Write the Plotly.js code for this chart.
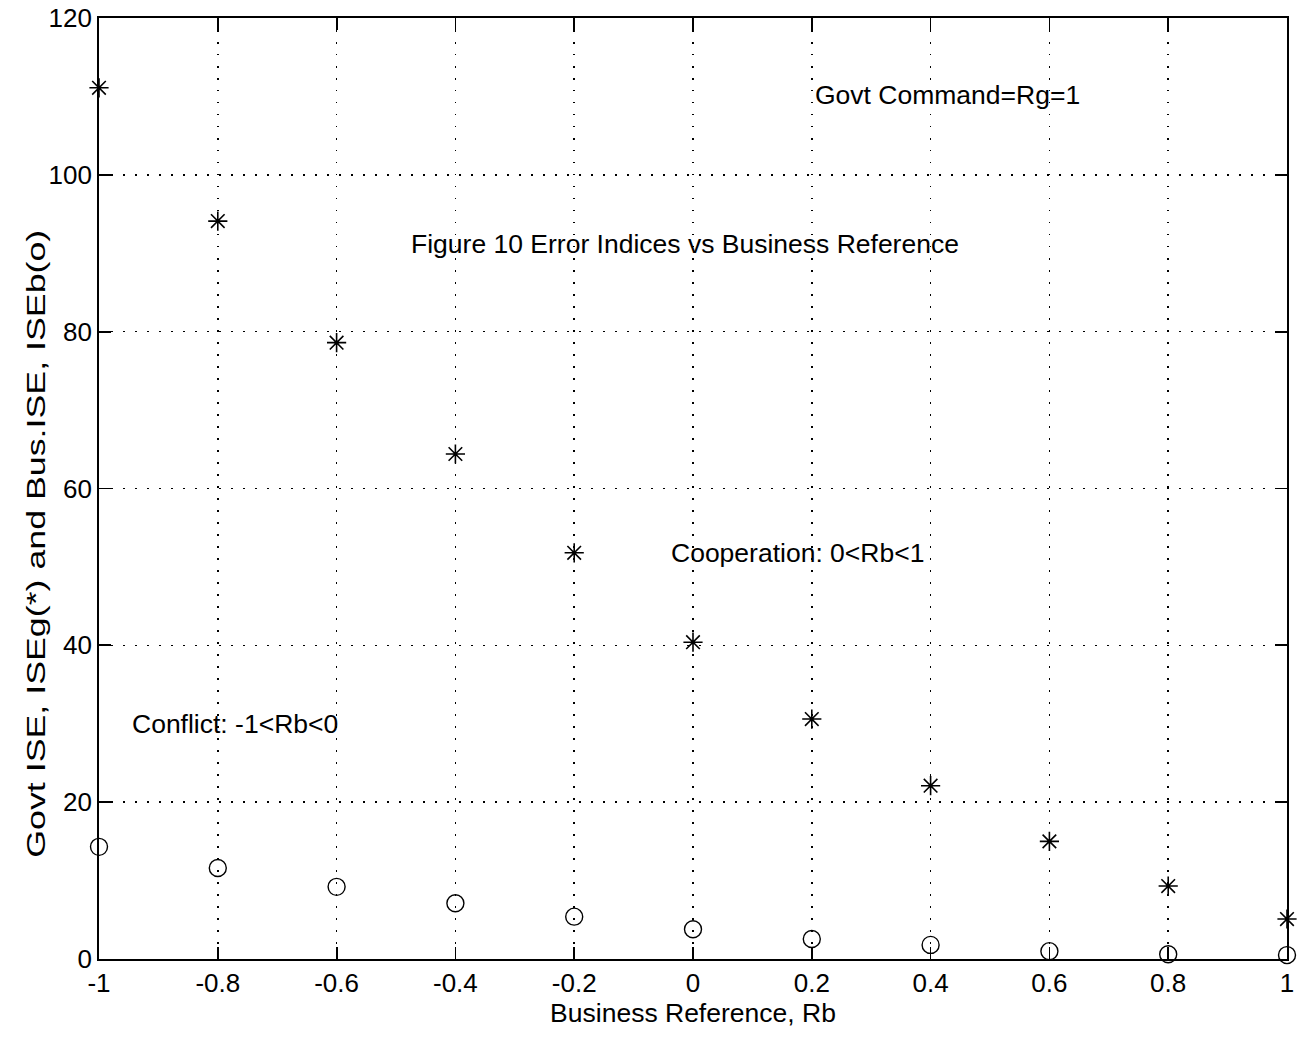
<!DOCTYPE html>
<html><head><meta charset="utf-8">
<script src="https://cdn.plot.ly/plotly-3.0.1.min.js"></script>
<style>html,body{margin:0;padding:0;background:#fff}#plot{width:1304px;height:1037px}</style>
</head><body><div id="plot"></div>
<script>
const rb = [-1, -0.8, -0.6, -0.4, -0.2, 0, 0.2, 0.4, 0.6, 0.8, 1];
const iseGovt = [111.1, 94.1, 78.6, 64.4, 51.8, 40.4, 30.6, 22.1, 15.0, 9.3, 5.1];
const iseBus = [14.3, 11.6, 9.2, 7.1, 5.4, 3.8, 2.55, 1.8, 1.0, 0.6, 0.5];
const xTicks = [-1, -0.8, -0.6, -0.4, -0.2, 0, 0.2, 0.4, 0.6, 0.8, 1];
const xTickText = ["-1", "-0.8", "-0.6", "-0.4", "-0.2", "0", "0.2", "0.4", "0.6", "0.8", "1"];
const yTicks = [0, 20, 40, 60, 80, 100, 120];
const yTitle = "Govt ISE, ISEg(*) and Bus.ISE, ISEb(o)";
const xTitle = "Business Reference, Rb";

const font = {family: "Liberation Sans, Arial, sans-serif", color: "#000"};
const F = s => Object.assign({size: s}, font);
const traces = [
  {x: rb, y: iseGovt, type: "scatter", mode: "markers", cliponaxis: false,
   marker: {symbol: "asterisk-open", size: 16, color: "#000", line: {width: 1.6, color: "#000"}}},
  {x: rb, y: iseBus, type: "scatter", mode: "markers", cliponaxis: false,
   marker: {symbol: "circle-open", size: 17, color: "#000", line: {width: 1.4, color: "#000"}}}
];
const axisCommon = {showline: true, mirror: "ticks", linecolor: "#000", linewidth: 1.8,
  ticks: "inside", ticklen: 12, tickwidth: 1.8, tickcolor: "#000",
  showgrid: true, gridcolor: "#000", griddash: "1.5px,10.5px", gridwidth: 1.5, zeroline: false,
  tickfont: F(26)};
const layout = {
  width: 1304, height: 1037, showlegend: false,
  paper_bgcolor: "#fff", plot_bgcolor: "#fff",
  margin: {l: 99, r: 17, t: 18, b: 78},
  xaxis: Object.assign({}, axisCommon, {range: [-1, 1], tickvals: xTicks, ticktext: xTickText,
    title: {text: xTitle, font: F(26.5), standoff: 4}}),
  yaxis: Object.assign({}, axisCommon, {range: [0, 120], tickvals: yTicks}),
  annotations: [
    {x: 0.202, y: 110.2, xref: "x", yref: "y", text: "Govt Command=Rg=1", showarrow: false, xanchor: "left", yanchor: "middle", font: F(26.5)},
    {x: -0.478, y: 91.2, xref: "x", yref: "y", text: "Figure 10 Error Indices vs Business Reference", showarrow: false, xanchor: "left", yanchor: "middle", font: F(26.5)},
    {x: -0.040, y: 51.8, xref: "x", yref: "y", text: "Cooperation: 0<Rb<1", showarrow: false, xanchor: "left", yanchor: "middle", font: F(26.5)},
    {x: -0.948, y: 30.0, xref: "x", yref: "y", text: "Conflict: -1<Rb<0", showarrow: false, xanchor: "left", yanchor: "middle", font: F(26.5)},
    {x: -0.053, y: 0.441, xref: "paper", yref: "paper", text: yTitle, textangle: -90, showarrow: false, xanchor: "center", yanchor: "middle", font: F(26)}
  ]
};
Plotly.newPlot("plot", traces, layout, {displayModeBar: false, staticPlot: true}).then(() => {
  document.querySelectorAll(".annotation-text").forEach(t => {
    if (t.textContent === yTitle) {
      t.setAttribute("textLength", "628");
      t.setAttribute("lengthAdjust", "spacingAndGlyphs");
    }
  });
});
</script></body></html>
